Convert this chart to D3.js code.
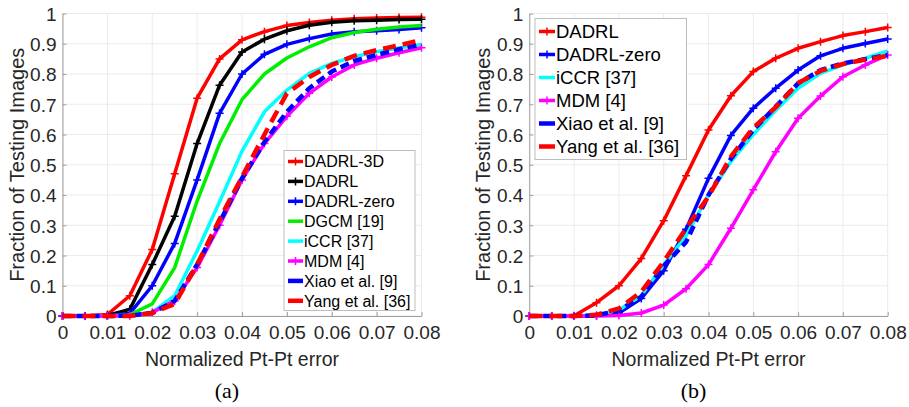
<!DOCTYPE html>
<html>
<head>
<meta charset="utf-8">
<script src="https://cdn.jsdelivr.net/npm/d3@7"></script>
<style>
  body { margin: 0; background: #fff; }
  svg { display: block; }
</style>
</head>
<body>
<div id="container"></div>
<script>
// x positions of the samples (normalized error)
const errs = [0, 0.005, 0.01, 0.015, 0.02, 0.025, 0.03, 0.035, 0.04, 0.045, 0.05, 0.055, 0.06, 0.065, 0.07, 0.075, 0.08];
const xTicks = [0, 0.01, 0.02, 0.03, 0.04, 0.05, 0.06, 0.07, 0.08];
const yTicks = [0, 0.1, 0.2, 0.3, 0.4, 0.5, 0.6, 0.7, 0.8, 0.9, 1];

// panel (a)
const namesA = ['DADRL-3D', 'DADRL', 'DADRL-zero', 'DGCM [19]', 'iCCR [37]', 'MDM [4]', 'Xiao et al. [9]', 'Yang et al. [36]'];
const colorsA = ['#ff0000', '#000000', '#0000ff', '#00ee00', '#00ffff', '#ff00ff', '#0000ff', '#ff0000'];
const a_dadrl3d = [0, 0, 0.005, 0.067, 0.22, 0.47, 0.72, 0.85, 0.913, 0.94, 0.96, 0.97, 0.978, 0.983, 0.985, 0.987, 0.988];
const a_dadrl = [0, 0, 0.002, 0.022, 0.17, 0.33, 0.57, 0.763, 0.873, 0.915, 0.943, 0.961, 0.971, 0.976, 0.978, 0.98, 0.981];
const a_zero = [0, 0, 0, 0.009, 0.10, 0.24, 0.45, 0.67, 0.80, 0.865, 0.898, 0.917, 0.932, 0.94, 0.943, 0.947, 0.953];
const a_dgcm = [0, 0, 0, 0.004, 0.04, 0.16, 0.38, 0.57, 0.715, 0.8, 0.853, 0.89, 0.92, 0.937, 0.948, 0.955, 0.96];
const a_iccr = [0, 0, 0, 0.001, 0.013, 0.067, 0.215, 0.378, 0.545, 0.675, 0.747, 0.802, 0.835, 0.857, 0.874, 0.886, 0.898];
const a_mdm = [0, 0, 0, 0.001, 0.012, 0.05, 0.16, 0.30, 0.45, 0.57, 0.66, 0.736, 0.79, 0.83, 0.852, 0.87, 0.887];
const a_xiao = [0, 0, 0, 0.001, 0.01, 0.05, 0.17, 0.31, 0.455, 0.575, 0.675, 0.753, 0.808, 0.843, 0.863, 0.882, 0.898];
const a_yang = [0, 0, 0, 0, 0.01, 0.04, 0.17, 0.32, 0.46, 0.60, 0.736, 0.79, 0.83, 0.86, 0.879, 0.895, 0.912];

// panel (b)
const namesB = ['DADRL', 'DADRL-zero', 'iCCR [37]', 'MDM [4]', 'Xiao et al. [9]', 'Yang et al. [36]'];
const colorsB = ['#ff0000', '#0000ff', '#00ffff', '#ff00ff', '#0000ff', '#ff0000'];
const b_dadrl = [0, 0, 0.001, 0.044, 0.10, 0.19, 0.315, 0.464, 0.615, 0.728, 0.808, 0.852, 0.885, 0.907, 0.927, 0.94, 0.954];
const b_zero = [0, 0, 0, 0.002, 0.01, 0.058, 0.15, 0.287, 0.455, 0.597, 0.687, 0.753, 0.813, 0.86, 0.885, 0.901, 0.916];
const b_iccr = [0, 0, 0, 0.003, 0.02, 0.068, 0.17, 0.265, 0.40, 0.51, 0.60, 0.68, 0.753, 0.802, 0.83, 0.852, 0.876];
const b_mdm = [0, 0, 0, 0, 0.002, 0.01, 0.036, 0.09, 0.17, 0.29, 0.417, 0.543, 0.654, 0.727, 0.791, 0.83, 0.863];
const b_xiao = [0, 0, 0, 0.002, 0.018, 0.063, 0.165, 0.245, 0.40, 0.52, 0.615, 0.692, 0.769, 0.813, 0.835, 0.849, 0.863];
const b_yang = [0, 0, 0, 0.004, 0.025, 0.08, 0.18, 0.29, 0.395, 0.527, 0.622, 0.69, 0.77, 0.81, 0.833, 0.848, 0.86];

const sans = 'Liberation Sans, Arial, Helvetica, sans-serif';
const textCol = '#262626';

const svg = d3.select('#container')
    .append('svg')
    .attr('width', 909)
    .attr('height', 407);

// line kind per legend name: dashed or with '+' markers
const dashes = { 'Xiao et al. [9]': '9,5', 'Yang et al. [36]': '13,7' };
const marked = ['DADRL-3D', 'DADRL', 'DADRL-zero', 'MDM [4]'];

function panel(opt) {
    const x = d3.scaleLinear().domain([0, 0.08]).range([opt.x0, opt.x1]);
    const y = d3.scaleLinear().domain([0, 1]).range([316, 13.5]);
    const g = svg.append('g');

    const series = opt.names.map((n, i) => ({
        name: n, values: opt.values[i], c: opt.colors[i],
        dash: dashes[n] || null, mark: marked.includes(n)
    }));

    // grid
    g.append('g')
        .selectAll('line')
        .data(xTicks)
        .enter()
        .append('line')
        .attr('x1', d => x(d)).attr('x2', d => x(d))
        .attr('y1', y(0)).attr('y2', y(1))
        .attr('stroke', '#ebebeb').attr('stroke-width', 1);
    g.append('g')
        .selectAll('line')
        .data(yTicks)
        .enter()
        .append('line')
        .attr('x1', x(0)).attr('x2', x(0.08))
        .attr('y1', d => y(d)).attr('y2', d => y(d))
        .attr('stroke', '#ebebeb').attr('stroke-width', 1);

    // axes
    const xAxis = g.append('g')
        .attr('transform', `translate(0,${y(0)})`)
        .call(d3.axisBottom(x).tickValues(xTicks).tickSizeInner(-4).tickSizeOuter(0).tickPadding(10)
            .tickFormat(d => d === 0 ? '0' : d3.format('.2f')(d)));
    const yAxis = g.append('g')
        .attr('transform', `translate(${x(0)},0)`)
        .call(d3.axisLeft(y).tickValues(yTicks).tickSizeInner(-4).tickSizeOuter(0).tickPadding(6)
            .tickFormat(d => d === 0 || d === 1 ? d3.format('d')(d) : d3.format('.1f')(d)));
    [xAxis, yAxis].forEach(ax => {
        ax.select('.domain').attr('stroke', '#a0a0a0');
        ax.selectAll('.tick line').attr('stroke', '#a0a0a0');
        ax.selectAll('text')
            .attr('font-family', sans)
            .attr('font-size', 19)
            .attr('fill', textCol);
    });
    yAxis.selectAll('text').attr('dy', '0.36em');

    // curves
    const line = d3.line()
        .x((d, i) => x(errs[i]))
        .y(d => y(d));
    series.forEach(s => {
        g.append('path')
            .datum(s.values)
            .attr('d', line)
            .attr('fill', 'none')
            .attr('stroke', s.c)
            .attr('stroke-width', s.dash ? 4.5 : 3.5)
            .attr('stroke-dasharray', s.dash)
            .attr('stroke-linejoin', 'round');
        if (s.mark) {
            g.append('g')
                .selectAll('path')
                .data(s.values)
                .enter()
                .append('path')
                .attr('d', (d, i) => {
                    const px = x(errs[i]), py = y(d);
                    return `M${px - 4},${py}H${px + 4}M${px},${py - 4}V${py + 4}`;
                })
                .attr('stroke', s.c)
                .attr('stroke-width', 1.5);
        }
    });

    // axis titles
    g.append('text')
        .attr('x', (opt.x0 + opt.x1) / 2)
        .attr('y', 366)
        .attr('text-anchor', 'middle')
        .attr('font-family', sans)
        .attr('font-size', 19.5)
        .attr('fill', textCol)
        .text('Normalized Pt-Pt error');
    g.append('text')
        .attr('transform', `translate(${opt.x0 - 39},${y(0.5)}) rotate(-90)`)
        .attr('text-anchor', 'middle')
        .attr('font-family', sans)
        .attr('font-size', 20)
        .attr('fill', textCol)
        .text('Fraction of Testing Images');

    // caption
    g.append('text')
        .attr('x', (opt.x0 + opt.x1) / 2 - 15)
        .attr('y', 398)
        .attr('text-anchor', 'middle')
        .attr('font-family', 'Liberation Serif, DejaVu Serif, serif')
        .attr('font-size', 22)
        .attr('fill', '#000')
        .text(opt.caption);

    // legend
    const lg = opt.legend;
    const leg = g.append('g');
    leg.append('rect')
        .attr('x', lg.x).attr('y', lg.y)
        .attr('width', lg.w).attr('height', lg.h)
        .attr('fill', '#fff')
        .attr('stroke', '#bdbdbd')
        .attr('stroke-width', 1);
    const rows = leg.selectAll('g.row')
        .data(series)
        .enter()
        .append('g')
        .attr('transform', (d, i) => `translate(${lg.x},${lg.y + lg.first + i * lg.step})`);
    rows.append('line')
        .attr('x1', 4).attr('x2', lg.sample)
        .attr('y1', 0).attr('y2', 0)
        .attr('stroke', d => d.c)
        .attr('stroke-width', d => d.dash ? 4.5 : 3.5);
    const mid = (4 + lg.sample) / 2;
    rows.filter(d => d.mark)
        .append('path')
        .attr('d', `M${mid - 4},0H${mid + 4}M${mid},-4V4`)
        .attr('stroke', d => d.c)
        .attr('stroke-width', 1.5);
    rows.append('text')
        .attr('x', lg.sample + 1)
        .attr('dy', '0.36em')
        .attr('font-family', sans)
        .attr('font-size', lg.font)
        .attr('fill', '#000')
        .text(d => d.name);
}

panel({
    x0: 62.5, x1: 421.5, caption: '(a)',
    names: namesA, colors: colorsA,
    values: [a_dadrl3d, a_dadrl, a_zero, a_dgcm, a_iccr, a_mdm, a_xiao, a_yang],
    legend: { x: 284, y: 150.5, w: 131, h: 160, first: 11, step: 19.9, sample: 19, font: 16 }
});

panel({
    x0: 529.3, x1: 887.7, caption: '(b)',
    names: namesB, colors: colorsB,
    values: [b_dadrl, b_zero, b_iccr, b_mdm, b_xiao, b_yang],
    legend: { x: 535, y: 18.5, w: 151.5, h: 141, first: 13, step: 23, sample: 20, font: 18.5 }
});
</script>
</body>
</html>
